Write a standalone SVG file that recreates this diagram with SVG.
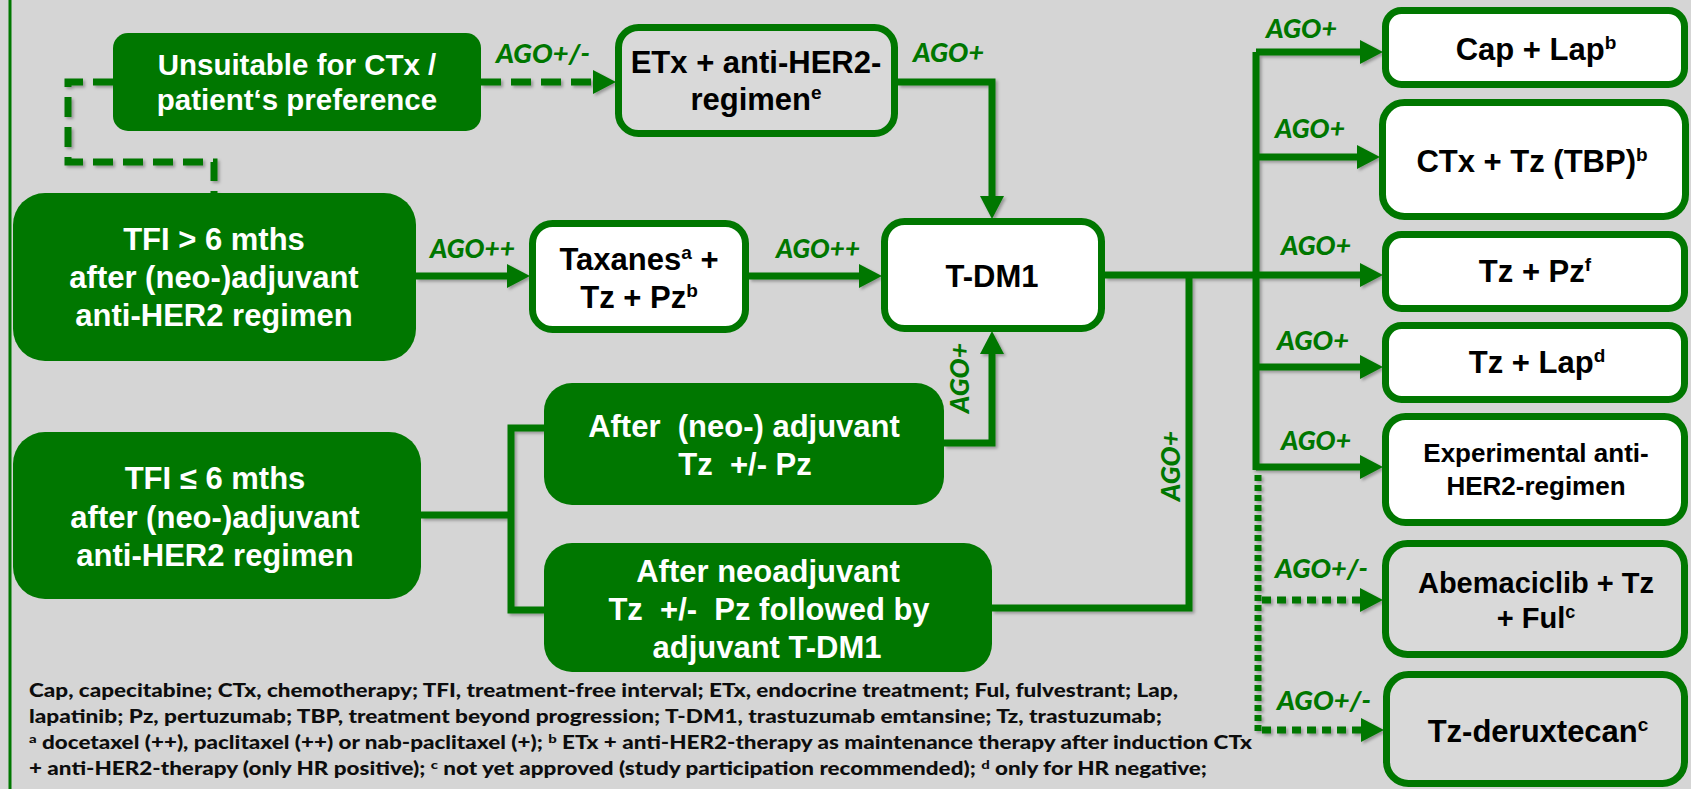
<svg xmlns="http://www.w3.org/2000/svg" width="1691" height="789" viewBox="0 0 1691 789">
<style>
.bg{fill:#d5d5d5}
.gbox{fill:#007700}
.wbox{fill:#ffffff;stroke:#007700;stroke-width:7}
.lbox{fill:#d9d9d9;stroke:#007700;stroke-width:7}
.wt{font-family:"Liberation Sans",Arial,sans-serif;font-weight:bold;fill:#ffffff;text-anchor:middle;white-space:pre}
.bt{font-family:"Liberation Sans",Arial,sans-serif;font-weight:bold;fill:#000000;text-anchor:middle;white-space:pre}
.ago{font-family:Lato,"Open Sans",sans-serif;font-weight:900;font-style:italic;font-size:26px;fill:#007700}
.fn{font-family:Lato,"Open Sans",sans-serif;font-weight:900;font-size:18px;fill:#0d0d0d}
.ln{fill:none;stroke:#007700;stroke-width:7;stroke-linejoin:miter}
.dash{stroke-dasharray:20 10}
.dotv{stroke-dasharray:6 4}
.doth{stroke-dasharray:9 6}
</style>
<defs>
<marker id="ah" markerUnits="userSpaceOnUse" markerWidth="24" markerHeight="24" refX="0" refY="11.5" orient="auto" viewBox="0 0 22 23">
<path d="M0,0 L22,11.5 L0,23 Z" fill="#007700"/>
</marker>
<filter id="sh" x="-5%" y="-5%" width="110%" height="110%">
<feDropShadow dx="2" dy="2" stdDeviation="1.5" flood-color="#000" flood-opacity="0.3"/>
</filter>
</defs>
<rect class="bg" x="0" y="0" width="1691" height="789"/>
<line x1="10" y1="0" x2="10" y2="789" stroke="#007700" stroke-width="3"/>

<g id="connectors" filter="url(#sh)">
<path class="ln dash" d="M113,82 H68 V162 H214 V193"/>
<path class="ln dash" d="M481,82 H593" marker-end="url(#ah)"/>
<path class="ln" d="M416,276 H507" marker-end="url(#ah)"/>
<path class="ln" d="M749,276 H859" marker-end="url(#ah)"/>
<path class="ln" d="M898,82 H992 V196" marker-end="url(#ah)"/>
<path class="ln" d="M1105,275 H1360" marker-end="url(#ah)"/>
<path class="ln" d="M1256,52 V470"/>
<path class="ln" d="M1256,52 H1360" marker-end="url(#ah)"/>
<path class="ln" d="M1256,157 H1357" marker-end="url(#ah)"/>
<path class="ln" d="M1256,367 H1360" marker-end="url(#ah)"/>
<path class="ln" d="M1256,467 H1360" marker-end="url(#ah)"/>
<path class="ln dotv" d="M1258,475 V733"/>
<path class="ln doth" d="M1262,600 H1360" marker-end="url(#ah)"/>
<path class="ln doth" d="M1262,730 H1361" marker-end="url(#ah)"/>
<path class="ln" d="M421,515 H511"/>
<path class="ln" d="M544,428 H511 V610 H544"/>
<path class="ln" d="M944,443 H992 V354" marker-end="url(#ah)"/>
<path class="ln" d="M992,608 H1189 V275"/>
</g>

<g id="labels">
<text class="ago" x="496" y="63" textLength="94" lengthAdjust="spacingAndGlyphs">AGO+/-</text>
<text class="ago" x="913" y="62" textLength="71" lengthAdjust="spacingAndGlyphs">AGO+</text>
<text class="ago" x="430" y="258" textLength="85" lengthAdjust="spacingAndGlyphs">AGO++</text>
<text class="ago" x="776" y="258" textLength="84" lengthAdjust="spacingAndGlyphs">AGO++</text>
<text class="ago" transform="translate(969,378) rotate(-90)" text-anchor="middle" textLength="70" lengthAdjust="spacingAndGlyphs">AGO+</text>
<text class="ago" transform="translate(1180,466) rotate(-90)" text-anchor="middle" textLength="70" lengthAdjust="spacingAndGlyphs">AGO+</text>
<text class="ago" x="1266" y="38" textLength="71" lengthAdjust="spacingAndGlyphs">AGO+</text>
<text class="ago" x="1275" y="138" textLength="70" lengthAdjust="spacingAndGlyphs">AGO+</text>
<text class="ago" x="1281" y="255" textLength="70" lengthAdjust="spacingAndGlyphs">AGO+</text>
<text class="ago" x="1277" y="350" textLength="72" lengthAdjust="spacingAndGlyphs">AGO+</text>
<text class="ago" x="1281" y="450" textLength="70" lengthAdjust="spacingAndGlyphs">AGO+</text>
<text class="ago" x="1275" y="578" textLength="93" lengthAdjust="spacingAndGlyphs">AGO+/-</text>
<text class="ago" x="1277" y="710" textLength="94" lengthAdjust="spacingAndGlyphs">AGO+/-</text>
</g>

<g id="n-unsuitable">
<rect class="gbox" x="113" y="33" width="368" height="98" rx="15"/>
<text class="wt" font-size="29.5" x="297" y="75">Unsuitable for CTx /</text>
<text class="wt" font-size="29.5" x="297" y="110">patient‘s preference</text>
</g>

<g id="n-tfi-gt6">
<rect class="gbox" x="13" y="193" width="403" height="168" rx="32"/>
<text class="wt" font-size="31" x="214" y="250">TFI &gt; 6 mths</text>
<text class="wt" font-size="31" x="214" y="288">after (neo-)adjuvant</text>
<text class="wt" font-size="31" x="214" y="326">anti-HER2 regimen</text>
</g>

<g id="n-etx">
<rect class="lbox" x="618.5" y="27.5" width="276" height="106" rx="20"/>
<text class="bt" font-size="31" x="756" y="73">ETx + anti-HER2-</text>
<text class="bt" font-size="31" x="756" y="110">regimen<tspan font-size="19" dy="-11">e</tspan></text>
</g>

<g id="n-taxanes">
<rect class="wbox" x="532.5" y="223.5" width="213" height="106" rx="20"/>
<text class="bt" font-size="31" x="639" y="270">Taxanes<tspan font-size="19" dy="-11">a</tspan><tspan dy="11"> +</tspan></text>
<text class="bt" font-size="31" x="639" y="308">Tz + Pz<tspan font-size="19" dy="-11">b</tspan></text>
</g>

<g id="n-tdm1">
<rect class="wbox" x="884.5" y="221.5" width="217" height="107" rx="20"/>
<text class="bt" font-size="31" x="992" y="287">T-DM1</text>
</g>

<g id="n-tfi-le6">
<rect class="gbox" x="13" y="432" width="408" height="167" rx="32"/>
<text class="wt" font-size="31" x="215" y="489">TFI ≤ 6 mths</text>
<text class="wt" font-size="31" x="215" y="528">after (neo-)adjuvant</text>
<text class="wt" font-size="31" x="215" y="566">anti-HER2 regimen</text>
</g>

<g id="n-after-neo">
<rect class="gbox" x="544" y="383" width="400" height="122" rx="28"/>
<text class="wt" font-size="31" x="744" y="437">After  (neo-) adjuvant</text>
<text class="wt" font-size="31" x="745" y="475">Tz  +/- Pz</text>
</g>

<g id="n-after-neoadj">
<rect class="gbox" x="544" y="543" width="448" height="129" rx="28"/>
<text class="wt" font-size="31" x="768" y="582">After neoadjuvant</text>
<text class="wt" font-size="31" x="769" y="620">Tz  +/-  Pz followed by</text>
<text class="wt" font-size="31" x="767" y="658">adjuvant T-DM1</text>
</g>

<g id="n-caplap">
<rect class="wbox" x="1385.5" y="10.5" width="299" height="74" rx="16"/>
<text class="bt" font-size="31" x="1536" y="60">Cap + Lap<tspan font-size="19" dy="-11">b</tspan></text>
</g>

<g id="n-ctxtz">
<rect class="wbox" x="1382.5" y="102.5" width="303" height="114" rx="22"/>
<text class="bt" font-size="31" x="1532" y="172">CTx + Tz (TBP)<tspan font-size="19" dy="-11">b</tspan></text>
</g>

<g id="n-tzpz">
<rect class="wbox" x="1385.5" y="234.5" width="299" height="74" rx="16"/>
<text class="bt" font-size="31" x="1535" y="282">Tz + Pz<tspan font-size="19" dy="-11">f</tspan></text>
</g>

<g id="n-tzlap">
<rect class="wbox" x="1385.5" y="325.5" width="299" height="74" rx="16"/>
<text class="bt" font-size="31" x="1537" y="373">Tz + Lap<tspan font-size="19" dy="-11">d</tspan></text>
</g>

<g id="n-experimental">
<rect class="wbox" x="1385.5" y="416.5" width="299" height="106" rx="20"/>
<text class="bt" font-size="26" x="1536" y="462">Experimental anti-</text>
<text class="bt" font-size="26" x="1536" y="495">HER2-regimen</text>
</g>

<g id="n-abemaciclib">
<rect class="lbox" x="1385.5" y="543.5" width="299" height="111" rx="22"/>
<text class="bt" font-size="29" x="1536" y="593">Abemaciclib + Tz</text>
<text class="bt" font-size="29" x="1536" y="628">+ Ful<tspan font-size="18" dy="-10">c</tspan></text>
</g>

<g id="n-tzdxd">
<rect class="lbox" x="1386.5" y="674.5" width="298" height="109" rx="22"/>
<text class="bt" font-size="31" x="1538" y="742">Tz-deruxtecan<tspan font-size="19" dy="-11">c</tspan></text>
</g>

<g id="footnotes">
<text class="fn" x="29" y="697" textLength="1149" lengthAdjust="spacingAndGlyphs">Cap, capecitabine; CTx, chemotherapy; TFI, treatment-free interval; ETx, endocrine treatment; Ful, fulvestrant; Lap,</text>
<text class="fn" x="29" y="723" textLength="1133" lengthAdjust="spacingAndGlyphs">lapatinib; Pz, pertuzumab; TBP, treatment beyond progression; T-DM1, trastuzumab emtansine; Tz, trastuzumab;</text>
<text class="fn" x="29" y="749" textLength="1223" lengthAdjust="spacingAndGlyphs"><tspan font-size="12" dy="-6">a</tspan><tspan dy="6"> docetaxel (++), paclitaxel (++) or nab-paclitaxel (+); </tspan><tspan font-size="12" dy="-6">b</tspan><tspan dy="6"> ETx + anti-HER2-therapy as maintenance therapy after induction CTx</tspan></text>
<text class="fn" x="29" y="775" textLength="1178" lengthAdjust="spacingAndGlyphs">+ anti-HER2-therapy (only HR positive); <tspan font-size="12" dy="-6">c</tspan><tspan dy="6"> not yet approved (study participation recommended); </tspan><tspan font-size="12" dy="-6">d</tspan><tspan dy="6"> only for HR negative;</tspan></text>
</g>
</svg>
